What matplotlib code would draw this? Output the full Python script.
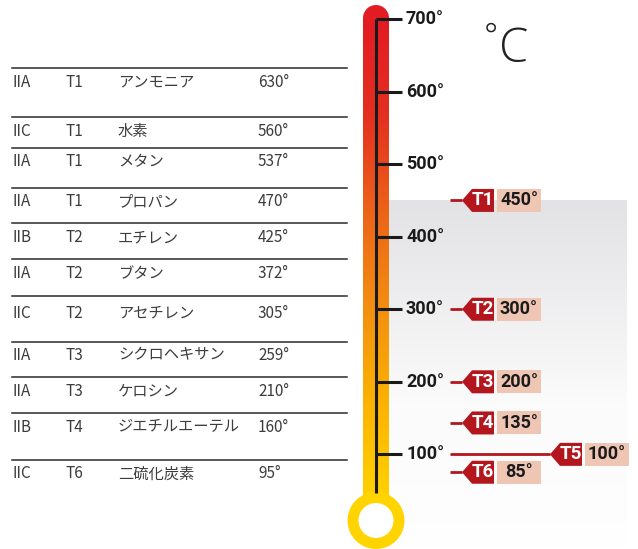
import numpy as np
import matplotlib.pyplot as plt
from matplotlib.patches import Polygon, Ellipse, Rectangle
from matplotlib.colors import LinearSegmentedColormap

# table data
groups = ["IIA", "IIC", "IIA", "IIA", "IIB", "IIA", "IIC", "IIA", "IIA", "IIB", "IIC"]
classes = ["T1", "T1", "T1", "T1", "T2", "T2", "T2", "T3", "T3", "T4", "T6"]
gases = ["アンモニア", "水素", "メタン", "プロパン", "エチレン", "ブタン", "アセチレン",
         "シクロヘキサン", "ケロシン", "ジエチルエーテル", "二硫化炭素"]
ignition = [630, 560, 537, 470, 425, 372, 305, 259, 210, 160, 95]

# thermometer scale and temperature classes
scale_ticks = [100, 200, 300, 400, 500, 600, 700]
t_classes = ["T1", "T2", "T3", "T4", "T5", "T6"]
t_limits = [450, 300, 200, 135, 100, 85]

# layout (pixels)
W, H = 638, 549
k = 0.7255          # px per degree
y0 = 526.9          # pixel row of 0 degrees
row_lines = [68, 117, 148, 188, 223, 259, 296, 342, 377, 413, 460]
row_text = [82, 131, 162, 202, 238, 274, 313, 355, 391, 427, 474]
tag_tips = [462, 462, 462, 462, 550, 462]
tag_nudge = [0, 0, 0, -6, 0, 7]

dark_red = "#b3161d"
pink = "#efc5b4"

fig = plt.figure(figsize=(W / 100, H / 100), dpi=100)
ax = fig.add_axes([0, 0, 1, 1])
ax.set_xlim(0, W)
ax.set_ylim((y0 - H) / k, y0 / k)
ax.axis("off")


def deg(px):
    # pixel offset -> degrees
    return px / k


def tpos(py):
    # pixel row -> temperature coordinate
    return (y0 - py) / k


# grey gradient panel behind the T-classes
bg = LinearSegmentedColormap.from_list("bg", ["#ffffff", "#fbfbfb", "#e3e3e6"])
grad = np.linspace(0, 1, 256).reshape(-1, 1) ** 0.8
ax.imshow(grad, cmap=bg, aspect="auto", origin="lower",
          extent=[389, 627, ax.get_ylim()[0], t_limits[0]], zorder=0)

# thermometer tube
tube = LinearSegmentedColormap.from_list(
    "tube", ["#ffd400", "#fbb400", "#f39010", "#ec6418", "#e42f20", "#e31b23"])
tube_top = tpos(18)
tube_bot = tpos(505)
ax.imshow(np.linspace(0, 1, 256).reshape(-1, 1), cmap=tube, aspect="auto", origin="lower",
          extent=[363, 389, tube_bot, tube_top], zorder=1)
ax.add_patch(Ellipse((376, tube_top), 26, deg(26), color="#e31b23", zorder=1, lw=0))

# bulb
bulb_c = tpos(520.5)
ax.add_patch(Ellipse((376, bulb_c), 57, deg(57), color="#ffd400", zorder=2, lw=0))
ax.add_patch(Ellipse((376, bulb_c), 35, deg(35), color="white", zorder=3, lw=0))

# scale
ax.vlines(376, tpos(493), scale_ticks[-1], color="#1a1a1a", lw=2.2, zorder=4)
ax.hlines(scale_ticks, 376, 402, color="#1a1a1a", lw=2.2, zorder=4)
for t in scale_ticks:
    ax.text(406, t, f"{t}°", fontsize=13, fontweight="bold", family="Roboto",
            color="#1a1a1a", va="center", ha="left", zorder=5)

# unit label
ax.text(484, tpos(38), "°", fontsize=24, family="Open Sans", fontweight="light",
        color="#222222", va="center", ha="left")
ax.text(499, tpos(50), "C", fontsize=34, family="Open Sans", fontweight="light",
        color="#222222", va="center", ha="left")

# temperature class tags
hh = deg(11.5)
for name, t, tip, nudge in zip(t_classes, t_limits, tag_tips, tag_nudge):
    y = t - deg(nudge)
    ax.plot([450, tip], [y, y], color=dark_red, lw=2, solid_capstyle="butt", zorder=5)
    ax.add_patch(Polygon([(tip, y), (tip + 10, y + hh), (tip + 32, y + hh),
                          (tip + 32, y - hh), (tip + 10, y - hh)],
                         closed=True, color=dark_red, lw=0, zorder=6))
    ax.add_patch(Rectangle((tip + 35, y - hh), 44, 2 * hh, color=pink, lw=0, zorder=6))
    ax.text(tip + 21, y, name, color="white", fontsize=13.5, fontweight="bold",
            family="Roboto", ha="center", va="center", zorder=7)
    ax.text(tip + 57, y, f"{t}°", color="#1a1a1a", fontsize=13, fontweight="bold",
            family="Roboto", ha="center", va="center", zorder=7)

# gas table
for ly in row_lines:
    ax.plot([12, 347], [tpos(ly), tpos(ly)], color="#2a2a2a", lw=1.1)
jp = ["Noto Sans CJK JP", "DejaVu Sans"]
for g, c, n, t, ty in zip(groups, classes, gases, ignition, row_text):
    y = tpos(ty)
    for x, s in [(12, g), (65, c), (118, n), (258, f"{t}°")]:
        ax.text(x, y, s, fontsize=11, family=jp, color="#3c3c3c",
                va="center", ha="left")

fig.savefig("out.png", dpi=100)
